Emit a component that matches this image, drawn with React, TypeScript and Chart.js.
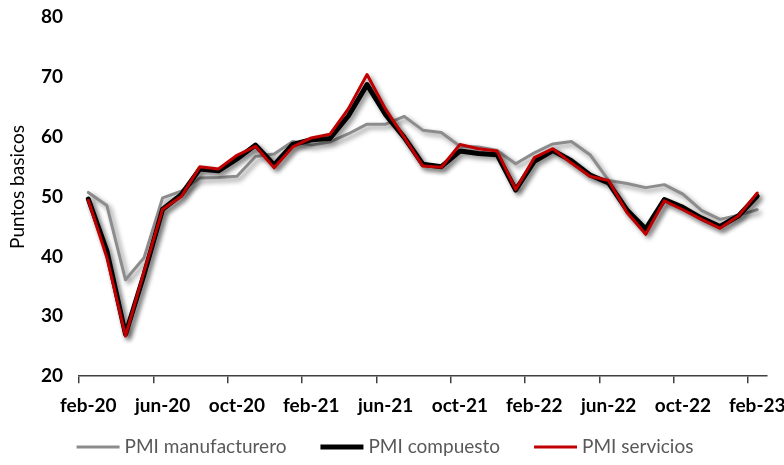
import React, { useEffect, useRef } from "react";
import { Chart, registerables } from "chart.js";

Chart.register(...registerables);

const months: string[] = [
  "feb-20", "mar-20", "abr-20", "may-20", "jun-20", "jul-20", "ago-20", "sep-20", "oct-20", "nov-20", "dic-20", "ene-21",
  "feb-21", "mar-21", "abr-21", "may-21", "jun-21", "jul-21", "ago-21", "sep-21", "oct-21", "nov-21", "dic-21", "ene-22",
  "feb-22", "mar-22", "abr-22", "may-22", "jun-22", "jul-22", "ago-22", "sep-22", "oct-22", "nov-22", "dic-22", "ene-23",
  "feb-23",
];

const pmiManufacturero: number[] = [
  50.7, 48.5, 36.1, 39.8, 49.8, 50.9, 53.1, 53.2, 53.4, 56.7, 57.1, 59.2,
  58.6, 59.1, 60.5, 62.1, 62.1, 63.4, 61.1, 60.7, 58.4, 58.3, 57.7, 55.5,
  57.3, 58.8, 59.2, 57.0, 52.7, 52.2, 51.5, 52.0, 50.4, 47.7, 46.2, 46.9,
  47.8,
];

const pmiCompuesto: number[] = [
  49.6, 40.9, 27.0, 37.0, 47.9, 50.3, 54.6, 54.3, 56.3, 58.6, 55.3, 58.7,
  59.5, 59.7, 63.5, 68.7, 63.7, 59.9, 55.4, 55.0, 57.6, 57.2, 57.0, 51.1,
  55.9, 57.7, 56.0, 53.6, 52.3, 47.7, 44.6, 49.5, 48.2, 46.4, 45.0, 46.8,
  50.1,
];

const pmiServicios: number[] = [
  49.4, 39.8, 26.7, 37.5, 47.9, 50.0, 55.0, 54.6, 56.9, 58.4, 54.8, 58.3,
  59.8, 60.4, 64.7, 70.4, 64.6, 59.9, 55.1, 54.9, 58.7, 58.0, 57.6, 51.2,
  56.5, 58.0, 55.6, 53.4, 52.7, 47.3, 43.7, 49.3, 47.8, 46.2, 44.7, 46.8,
  50.6,
];

const seriesNames: string[] = ["PMI manufacturero", "PMI compuesto", "PMI servicios"];
const seriesColors: string[] = ["#8c8c8c", "#000000", "#c00000"];
const seriesWidths: number[] = [3, 5, 3];
const seriesOrder: number[] = [3, 2, 1];
const yAxisTitle = "Puntos basicos";

const FONT = "Lato, 'Open Sans', sans-serif";

const shadowPlugin = {
  id: "lineShadow",
  beforeDatasetDraw(chart: any) {
    const ctx = chart.ctx;
    ctx.save();
    ctx.shadowColor = "rgba(0,0,0,0.45)";
    ctx.shadowBlur = 5;
    ctx.shadowOffsetX = 3;
    ctx.shadowOffsetY = 3;
  },
  afterDatasetDraw(chart: any) {
    chart.ctx.restore();
  },
};

const yTitlePlugin = {
  id: "yTitle",
  afterDraw(chart: any) {
    const ctx = chart.ctx;
    ctx.save();
    ctx.translate(18, 187);
    ctx.rotate(-Math.PI / 2);
    ctx.font = `19px ${FONT}`;
    ctx.fillStyle = "#000000";
    ctx.textAlign = "center";
    ctx.textBaseline = "middle";
    ctx.fillText(yAxisTitle, 0, 0);
    ctx.restore();
  },
};

const legendPlugin = {
  id: "customLegend",
  afterDraw(chart: any) {
    const ctx = chart.ctx;
    const lineLen = 43;
    const textGap = 5;
    const itemGap = 34;
    const y = 447;
    ctx.save();
    ctx.font = `19px ${FONT}`;
    const widths = chart.data.datasets.map((d: any) => ctx.measureText(d.label).width);
    const total = widths.reduce((a: number, w: number) => a + lineLen + textGap + w, 0) + itemGap * (widths.length - 1);
    let x = chart.width / 2 - total / 2 - 7;
    chart.data.datasets.forEach((d: any, i: number) => {
      ctx.beginPath();
      ctx.strokeStyle = d.borderColor;
      ctx.lineWidth = d.borderWidth;
      ctx.moveTo(x, y);
      ctx.lineTo(x + lineLen, y);
      ctx.stroke();
      x += lineLen + textGap;
      ctx.fillStyle = "#595959";
      ctx.textBaseline = "middle";
      ctx.textAlign = "left";
      ctx.fillText(d.label, x, y);
      x += widths[i] + itemGap;
    });
    ctx.restore();
  },
};

export default function App() {
  const canvasRef = useRef<HTMLCanvasElement | null>(null);

  useEffect(() => {
    document.body.style.margin = "0";
    const canvas = canvasRef.current;
    if (!canvas) return;
    const data = [pmiManufacturero, pmiCompuesto, pmiServicios];
    const chart = new Chart(canvas, {
      type: "line",
      data: {
        labels: months,
        datasets: data.map((values, i) => ({
          label: seriesNames[i],
          data: values,
          order: seriesOrder[i],
          borderColor: seriesColors[i],
          backgroundColor: seriesColors[i],
          borderWidth: seriesWidths[i],
          pointRadius: 0,
          tension: 0,
          fill: false,
          borderJoinStyle: "round" as const,
          borderCapStyle: "round" as const,
        })),
      },
      options: {
        responsive: false,
        animation: false,
        maintainAspectRatio: false,
        layout: { padding: { top: 17, left: 25, right: 17.5, bottom: 37 } },
        plugins: {
          legend: { display: false },
          tooltip: { enabled: false },
        },
        scales: {
          x: {
            type: "category",
            offset: true,
            afterFit: (scale: any) => {
              scale.paddingLeft = 0;
              scale.paddingRight = 0;
            },
            grid: {
              display: true,
              offset: true,
              drawOnChartArea: false,
              drawTicks: true,
              tickLength: 7,
              lineWidth: 1.5,
              color: (c: any) => (c.index % 4 === 0 ? "#404040" : "rgba(0,0,0,0)"),
            },
            border: { display: true, color: "#404040", width: 1.5 },
            ticks: {
              autoSkip: false,
              maxRotation: 0,
              minRotation: 0,
              padding: 11,
              color: "#000000",
              font: { family: FONT, size: 19, weight: "bold" },
              callback: (_v: any, i: number) => (i % 4 === 0 ? months[i] : ""),
            },
          },
          y: {
            min: 20,
            max: 80,
            afterFit: (scale: any) => {
              scale.paddingTop = 0;
              scale.paddingBottom = 0;
            },
            grid: { display: false, drawTicks: false },
            border: { display: false },
            ticks: {
              stepSize: 10,
              padding: 16,
              color: "#000000",
              font: { family: FONT, size: 19, weight: "bold" },
            },
          },
        },
      },
      plugins: [shadowPlugin, yTitlePlugin, legendPlugin],
    });
    return () => chart.destroy();
  }, []);

  return (
    <div style={{ width: 784, height: 465, background: "#ffffff" }}>
      <canvas ref={canvasRef} width={784} height={465} style={{ width: 784, height: 465, display: "block" }} />
    </div>
  );
}
